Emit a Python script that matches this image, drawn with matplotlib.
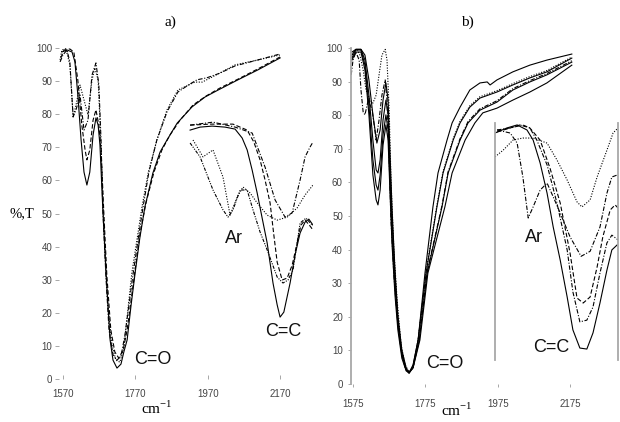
import matplotlib
matplotlib.use('Agg')
import matplotlib.pyplot as plt

plt.rcParams['font.family'] = 'Liberation Sans'

# ---- panel a, full spectra (cm-1, %T)
a_solid_x = [1567, 1581, 1595, 1603, 1611, 1620, 1628, 1636, 1644, 1653, 1661, 1667, 1672, 1680, 1689, 1700, 1708, 1719,
             1730, 1738, 1747, 1758, 1769, 1782, 1796, 1818, 1838, 1857, 1885, 1926, 1962, 1998, 2053, 2108, 2169]
a_solid_y = [98.8, 99.4, 98.8, 95.8, 85.8, 72.2, 62.5, 58.6, 62.5, 73.7, 78.9, 76.7, 70.7, 51.1, 31.4, 11.8, 5.7, 3.3,
             4.5, 8.2, 11.8, 22.4, 32.0, 42.6, 52.0, 62.2, 68.6, 72.2, 77.3, 82.2, 85.2, 87.3, 90.4, 93.4, 97.0]
a_dash_x = [1564, 1573, 1589, 1600, 1611, 1622, 1631, 1636, 1644, 1653, 1661, 1669, 1675, 1683, 1691, 1702, 1713, 1724,
            1736, 1747, 1758, 1769, 1782, 1799, 1821, 1843, 1865, 1893, 1929, 1965, 2003, 2053, 2108, 2169]
a_dash_y = [97.0, 99.4, 99.7, 98.8, 90.3, 76.7, 69.2, 66.2, 69.2, 78.2, 81.3, 76.7, 69.2, 49.5, 31.4, 14.8, 8.2, 6.3,
            8.8, 14.8, 23.9, 32.9, 43.5, 53.2, 62.5, 69.2, 73.7, 78.2, 82.8, 85.5, 87.9, 90.6, 93.7, 97.3]
a_dot_x = [1562, 1567, 1578, 1589, 1598, 1606, 1617, 1628, 1639, 1650, 1658, 1667, 1672, 1678, 1686, 1694, 1705, 1716,
           1727, 1738, 1749, 1760, 1788, 1805, 1829, 1857, 1887, 1934, 1954, 1981, 2045, 2108, 2169]
a_dot_y = [96.4, 99.4, 99.8, 94.9, 79.2, 82.8, 88.8, 84.3, 79.8, 90.3, 94.0, 90.3, 78.2, 60.1, 39.0, 22.4, 10.3, 5.7,
           5.1, 9.4, 20.8, 32.0, 52.0, 62.2, 72.2, 81.3, 87.3, 89.7, 89.7, 91.2, 94.9, 96.4, 97.9]
a_dashdot_x = [1562, 1570, 1581, 1589, 1598, 1606, 1617, 1628, 1639, 1650, 1661, 1669, 1675, 1680, 1689, 1697, 1708, 1719,
               1730, 1741, 1752, 1763, 1777, 1791, 1807, 1829, 1857, 1887, 1920, 1940, 1967, 2003, 2045, 2108, 2169]
a_dashdot_y = [95.8, 97.9, 99.4, 95.8, 79.2, 81.3, 85.8, 75.2, 78.2, 91.8, 95.5, 88.8, 72.2, 51.1, 29.9, 14.8, 7.3, 5.7,
               6.9, 13.3, 22.4, 31.4, 42.0, 52.0, 62.5, 72.2, 80.7, 86.7, 89.1, 90.4, 91.0, 92.4, 94.6, 96.4, 98.2]

# ---- panel a, expanded C=C / Ar region
ia_solid_x = [1955, 1979, 2008, 2039, 2063, 2080, 2092, 2104, 2116, 2128, 2140, 2154, 2164, 2171, 2180, 2195, 2207,
              2219, 2231, 2240, 2250]
ia_solid_y = [75.2, 76.1, 76.4, 76.1, 75.5, 72.8, 69.2, 63.1, 56.2, 48.6, 41.1, 29.0, 22.4, 18.7, 20.2, 29.0, 37.5,
              44.1, 47.4, 48.3, 46.5]
ia_dash_x = [1955, 2003, 2058, 2092, 2108, 2123, 2135, 2147, 2156, 2164, 2176, 2188, 2200, 2212, 2221, 2231, 2243, 2250]
ia_dash_y = [76.7, 77.0, 77.0, 75.2, 71.6, 66.2, 60.1, 53.2, 43.5, 35.3, 29.9, 30.5, 34.4, 41.1, 46.5, 48.0, 46.2, 45.0]
ia_dashdot_x = [1955, 2010, 2063, 2104, 2135, 2159, 2183, 2200, 2219, 2231, 2243, 2250]
ia_dashdot_y = [76.7, 77.6, 76.1, 74.3, 64.0, 54.1, 48.9, 50.2, 60.1, 67.1, 70.1, 71.6]
ia_dot_x = [1962, 1986, 2010, 2034, 2051, 2068, 2082, 2099, 2116, 2140, 2164, 2188, 2212, 2231, 2250]
ia_dot_y = [72.2, 67.1, 69.2, 61.0, 49.5, 55.0, 58.0, 56.2, 53.2, 49.5, 48.0, 48.9, 51.7, 55.6, 58.6]
ia_dashdot2_x = [1955, 1979, 2010, 2034, 2046, 2058, 2075, 2092, 2106, 2123, 2140, 2164, 2178, 2190, 2202, 2219, 2233,
                 2248]
ia_dashdot2_y = [71.3, 67.1, 57.1, 51.1, 48.9, 51.1, 57.1, 57.1, 51.1, 44.4, 39.0, 30.8, 29.0, 29.9, 32.9, 47.1, 48.6,
                 46.5]

# ---- panel b, full spectra
b1_x = [1572, 1583, 1597, 1608, 1619, 1630, 1641, 1650, 1658, 1666, 1672, 1677, 1683, 1691, 1699, 1710, 1722, 1730,
        1741, 1755, 1774, 1796, 1810, 1835, 1849, 1871, 1898, 1926, 1946, 1954, 1973, 2017, 2064, 2111, 2180]
b1_y = [97.9, 99.6, 99.6, 97.9, 90.5, 80.1, 71.7, 75.6, 84.5, 89.6, 84.5, 69.6, 51.8, 33.9, 20.5, 10.1, 4.8, 3.3,
        5.7, 13.1, 33.0, 52.7, 62.8, 72.6, 77.7, 82.4, 87.5, 89.6, 89.9, 89.0, 90.5, 92.9, 94.9, 96.4, 98.2]
b2_x = [1572, 1583, 1597, 1608, 1619, 1630, 1639, 1644, 1650, 1658, 1666, 1672, 1677, 1683, 1691, 1699, 1710, 1722,
        1730, 1741, 1755, 1777, 1807, 1824, 1852, 1871, 1898, 1926, 1973, 2017, 2064, 2111, 2180]
b2_y = [98.8, 99.6, 99.6, 96.4, 86.0, 72.6, 63.7, 62.8, 66.7, 78.6, 84.5, 80.1, 65.2, 48.8, 32.4, 19.0, 9.5, 4.2,
        3.3, 5.4, 13.1, 33.0, 52.7, 62.8, 72.6, 77.7, 82.4, 85.1, 86.9, 89.0, 91.1, 92.9, 97.0]
b3_x = [1572, 1583, 1597, 1608, 1619, 1630, 1639, 1644, 1650, 1658, 1666, 1672, 1677, 1683, 1691, 1699, 1710, 1722,
        1730, 1741, 1758, 1780, 1821, 1838, 1871, 1893, 1926, 1973, 2017, 2064, 2111, 2180]
b3_y = [97.0, 99.4, 99.4, 94.9, 83.0, 66.7, 59.2, 57.7, 62.2, 74.1, 80.1, 75.6, 60.7, 44.3, 29.5, 17.6, 8.6, 4.2,
        3.3, 4.8, 13.1, 33.0, 52.7, 62.8, 72.6, 77.7, 81.5, 83.9, 87.5, 89.9, 92.0, 95.8]
b4_x = [1572, 1583, 1597, 1608, 1619, 1630, 1639, 1644, 1650, 1658, 1666, 1672, 1677, 1683, 1691, 1699, 1710, 1722,
        1730, 1741, 1760, 1782, 1829, 1849, 1885, 1912, 1934, 1973, 2017, 2064, 2111, 2180]
b4_y = [96.4, 98.8, 98.8, 93.5, 80.1, 62.2, 54.8, 53.3, 57.7, 71.1, 77.1, 72.6, 57.7, 41.4, 26.5, 16.1, 7.7, 3.9,
        3.3, 4.8, 13.1, 33.0, 52.7, 62.8, 72.6, 77.7, 80.7, 82.1, 84.5, 86.9, 89.6, 94.9]
b_dot_x = [1570, 1575, 1586, 1594, 1603, 1611, 1622, 1630, 1639, 1647, 1655, 1664, 1669, 1675, 1680, 1688, 1697, 1708,
           1719, 1730, 1741, 1755, 1777, 1807, 1824, 1852, 1871, 1898, 1926, 1973, 2017, 2064, 2111, 2180]
b_dot_y = [96.4, 98.8, 99.6, 97.9, 93.5, 87.5, 84.5, 83.6, 86.0, 92.0, 97.9, 99.6, 96.4, 81.5, 60.7, 39.9, 25.0, 11.6,
           5.7, 3.6, 4.8, 13.1, 33.5, 53.2, 63.3, 73.0, 78.2, 82.8, 85.5, 87.3, 89.4, 91.5, 93.3, 97.3]
b_dashdot_x = [1570, 1575, 1583, 1592, 1597, 1603, 1608, 1617, 1628, 1639, 1647, 1655, 1664, 1669, 1675, 1680, 1688,
               1697, 1708, 1719, 1730, 1741, 1758, 1780, 1821, 1838, 1871, 1893, 1926, 1973, 2017, 2064, 2111, 2180]
b_dashdot_y = [92.0, 96.4, 98.8, 96.4, 87.5, 81.0, 80.1, 84.5, 81.5, 72.6, 78.6, 86.0, 90.5, 84.5, 66.7, 48.8, 32.4,
               20.5, 10.1, 4.8, 3.3, 5.1, 13.1, 33.4, 53.1, 63.2, 73.0, 78.1, 81.9, 84.3, 87.9, 90.3, 92.4, 96.2]

# ---- panel b, expanded C=C / Ar region
ib_solid_x = [1950, 1979, 2004, 2028, 2043, 2060, 2077, 2092, 2109, 2126, 2140, 2157, 2174, 2189, 2206, 2223, 2235, 2248]
ib_solid_y = [74.7, 76.2, 77.1, 75.6, 72.6, 65.8, 56.8, 46.7, 36.9, 25.9, 16.1, 10.7, 10.4, 15.2, 24.1, 33.9, 39.9, 41.4]
ib_dashdot_x = [1955, 1987, 2018, 2035, 2052, 2077, 2101, 2126, 2140, 2157, 2174, 2189, 2206, 2223, 2235, 2250]
ib_dashdot_y = [75.6, 76.2, 77.1, 76.2, 72.6, 65.2, 53.9, 39.9, 27.4, 18.5, 19.0, 22.9, 33.0, 42.0, 44.3, 42.9]
ib_dash_x = [1955, 1987, 2011, 2035, 2060, 2084, 2109, 2133, 2150, 2165, 2182, 2199, 2213, 2231, 2243, 2250]
ib_dash_y = [75.0, 76.2, 77.1, 76.2, 72.6, 64.3, 53.9, 39.0, 25.6, 24.1, 25.9, 34.8, 43.8, 51.8, 53.3, 52.4]
ib_dashdot2_x = [1955, 1987, 2004, 2018, 2031, 2043, 2060, 2077, 2092, 2109, 2133, 2160, 2182, 2206, 2223, 2235, 2248]
ib_dashdot2_y = [75.6, 74.7, 71.7, 61.6, 49.4, 52.7, 57.7, 59.8, 55.7, 50.9, 43.8, 38.0, 39.5, 46.7, 56.8, 61.6, 62.2]
ib_dot_x = [1950, 1970, 1994, 2018, 2043, 2077, 2101, 2126, 2150, 2162, 2182, 2199, 2223, 2238, 2250]
ib_dot_y = [67.6, 69.6, 72.6, 73.2, 73.2, 71.7, 66.7, 60.7, 54.2, 52.7, 54.8, 61.6, 69.6, 74.7, 76.2]

a_xticks = [1570, 1770, 1970, 2170]
b_xticks = [1575, 1775, 1975, 2175]
yticks = list(range(0, 101, 10))

SOLID = '-'
DASH = (0, (4, 2))
DOT = (0, (1, 1.4))
DASHDOT = (0, (4, 1.5, 1, 1.5))
DASHDOTDOT = (0, (3, 1.2, 1, 1.2, 1, 1.2))
LW = 0.8

fig = plt.figure(figsize=(6.2, 4.22), dpi=100)

# panel a
ax = fig.add_axes([55 / 620, 43 / 422, 258.8 / 620, 331 / 422])
ax.plot(a_dot_x, a_dot_y, color='k', lw=LW, ls=DOT)
ax.plot(a_dashdot_x, a_dashdot_y, color='k', lw=LW, ls=DASHDOT)
ax.plot(a_dash_x, a_dash_y, color='k', lw=LW, ls=DASH)
ax.plot(a_solid_x, a_solid_y, color='k', lw=LW, ls=SOLID)
ax.set_xlim(1548, 2262)
ax.set_ylim(0, 100)
ax.set_xticks(a_xticks)
ax.set_yticks(yticks)
for s in ax.spines.values():
    s.set_visible(False)
ax.tick_params(axis='both', direction='in', length=3, width=0.6, color='#999999',
               labelsize=7, labelcolor='#444444')
ax.tick_params(axis='y', pad=2)
ax.tick_params(axis='x', pad=7)

ina = fig.add_axes([188 / 620, 43 / 422, 125 / 620, 331 / 422])
ina.patch.set_alpha(0)
ina.plot(ia_dot_x, ia_dot_y, color='k', lw=LW, ls=DOT)
ina.plot(ia_dashdot2_x, ia_dashdot2_y, color='k', lw=LW, ls=DASHDOTDOT)
ina.plot(ia_dashdot_x, ia_dashdot_y, color='k', lw=LW, ls=DASHDOT)
ina.plot(ia_dash_x, ia_dash_y, color='k', lw=LW, ls=DASH)
ina.plot(ia_solid_x, ia_solid_y, color='k', lw=LW, ls=SOLID)
ina.set_xlim(1950, 2250)
ina.set_ylim(0, 100)
ina.axis('off')

# panel b
bx = fig.add_axes([351.2 / 620, 38 / 422, 268 / 620, 336 / 422])
bx.plot(b_dot_x, b_dot_y, color='k', lw=LW, ls=DOT)
bx.plot(b_dashdot_x, b_dashdot_y, color='k', lw=LW, ls=DASHDOT)
for xs, ys in [(b1_x, b1_y), (b2_x, b2_y), (b3_x, b3_y), (b4_x, b4_y)]:
    bx.plot(xs, ys, color='k', lw=LW, ls=SOLID)
bx.set_xlim(1570, 2311)
bx.set_ylim(0, 100)
bx.set_xticks(b_xticks)
bx.set_yticks(yticks)
for k, s in bx.spines.items():
    s.set_visible(k == 'left')
bx.spines['left'].set_color('#a8a8a8')
bx.spines['left'].set_linewidth(1.3)
bx.tick_params(axis='both', direction='out', length=2, width=0.6, color='#999999',
               labelsize=7, labelcolor='#444444')
bx.tick_params(axis='y', pad=4)
bx.tick_params(axis='x', pad=9)

inb = fig.add_axes([495 / 620, 38 / 422, 123 / 620, 336 / 422])
inb.patch.set_alpha(0)
inb.plot(ib_dot_x, ib_dot_y, color='k', lw=LW, ls=DOT)
inb.plot(ib_dashdot2_x, ib_dashdot2_y, color='k', lw=LW, ls=DASHDOT)
inb.plot(ib_dash_x, ib_dash_y, color='k', lw=LW, ls=DASH)
inb.plot(ib_dashdot_x, ib_dashdot_y, color='k', lw=LW, ls=DASHDOT)
inb.plot(ib_solid_x, ib_solid_y, color='k', lw=LW, ls=SOLID)
inb.set_xlim(1950, 2250)
inb.set_ylim(0, 100)
inb.set_xticks([])
inb.set_yticks([])
for k, s in inb.spines.items():
    s.set_visible(k in ('left', 'right'))
    s.set_color('#a8a8a8')
    s.set_linewidth(1.3)
inb.spines['left'].set_bounds(7, 77.7)
inb.spines['right'].set_bounds(7, 77.7)

# labels
serif = 'Liberation Serif'
fig.text(170 / 620, 1 - 22 / 422, 'a)', family=serif, fontsize=11, ha='center', va='center')
fig.text(467 / 620, 1 - 22 / 422, 'b)', family=serif, fontsize=11, ha='center', va='center')
fig.text(34 / 620, 1 - 214 / 422, '%,T', family=serif, fontsize=10.5, ha='right', va='center')
fig.text(157 / 620, 1 - 408 / 422, r'cm$^{\mathregular{-1}}$', family=serif, fontsize=11, ha='center', va='center')
fig.text(457 / 620, 1 - 410 / 422, r'cm$^{\mathregular{-1}}$', family=serif, fontsize=11, ha='center', va='center')

for px, py, s in [(153, 360, 'C=O'), (283, 332, 'C=C'), (234, 238, 'Ar'),
                  (445, 363, 'C=O'), (551, 347, 'C=C'), (534, 237, 'Ar')]:
    fig.text(px / 620, 1 - py / 422, s, fontsize=13, ha='center', va='center', color='#111111')

fig.savefig('out.png', dpi=100)
